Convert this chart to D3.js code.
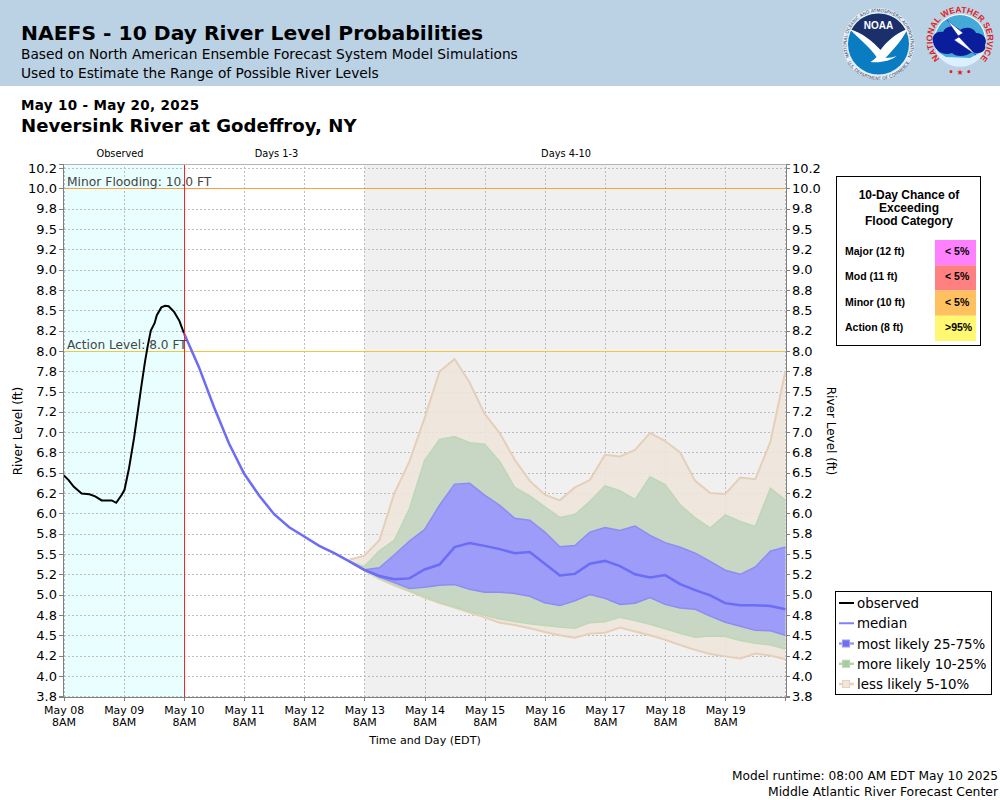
<!DOCTYPE html>
<html>
<head>
<meta charset="utf-8">
<title>NAEFS - Neversink River at Godeffroy, NY</title>
<script src="https://d3js.org/d3.v7.min.js"></script>
<style>
  html, body { margin: 0; padding: 0; background: #fff; }
  svg { display: block; }
  text { font-family: "DejaVu Sans", sans-serif; }
  .grid line { stroke: #bdbdbd; stroke-width: 1; stroke-dasharray: 2,2; shape-rendering: crispEdges; }
  .axis path { stroke: #808080; shape-rendering: crispEdges; }
  .axis line { stroke: #808080; shape-rendering: crispEdges; }
  .axis text { font-family: "DejaVu Sans", sans-serif; fill: #000; }
  .crisp { shape-rendering: crispEdges; }
  .table-text { font-family: "Liberation Sans", sans-serif; font-weight: bold; }
</style>
</head>
<body>
<div id="chart"></div>
<script>
// hours since May 08 8AM
var dayTicks = [0, 24, 48, 72, 96, 120, 144, 168, 192, 216, 240, 264, 288];
var dayLabels = ['May 08', 'May 09', 'May 10', 'May 11', 'May 12', 'May 13', 'May 14', 'May 15', 'May 16', 'May 17', 'May 18', 'May 19', ''];
var hourLabels = ['8AM', '8AM', '8AM', '8AM', '8AM', '8AM', '8AM', '8AM', '8AM', '8AM', '8AM', '8AM', ''];

var levelTicks = [3.75, 4, 4.25, 4.5, 4.75, 5, 5.25, 5.5, 5.75, 6, 6.25, 6.5, 6.75, 7, 7.25, 7.5, 7.75, 8, 8.25, 8.5, 8.75, 9, 9.25, 9.5, 9.75, 10, 10.25];
var levelLabels = ['3.8', '4.0', '4.2', '4.5', '4.8', '5.0', '5.2', '5.5', '5.8', '6.0', '6.2', '6.5', '6.8', '7.0', '7.2', '7.5', '7.8', '8.0', '8.2', '8.5', '8.8', '9.0', '9.2', '9.5', '9.8', '10.0', '10.2'];

var observedHours = [0, 2, 4, 7.2, 10.3, 12.6, 15.2, 19.2, 21, 23.2, 24.3, 26.1, 28.1, 29.5, 31, 32.5, 33.5, 34.8, 36.3, 37.2, 39, 40.5, 41.9, 44.1, 46.2, 48];
var observedLevels = [6.47, 6.41, 6.33, 6.245, 6.235, 6.21, 6.16, 6.16, 6.13, 6.23, 6.29, 6.555, 6.925, 7.23, 7.56, 7.87, 8.05, 8.25, 8.34, 8.44, 8.535, 8.555, 8.55, 8.48, 8.37, 8.22];

// six hourly forecast, May 10 8AM to May 20 8AM
var medianHours = [48, 54, 60, 66, 72, 78, 84, 90, 96, 102, 108, 114, 120, 126, 132, 138, 144, 150, 156, 162, 168, 174, 180, 186, 192, 198, 204, 210, 216, 222, 228, 234, 240, 246, 252, 258, 264, 270, 276, 282, 288];
var medianLevels = [8.22, 7.80, 7.31, 6.86, 6.49, 6.22, 5.99, 5.83, 5.715, 5.60, 5.51, 5.41, 5.305, 5.23, 5.19, 5.20, 5.31, 5.37, 5.585, 5.635, 5.60, 5.56, 5.51, 5.525, 5.38, 5.235, 5.255, 5.38, 5.415, 5.35, 5.25, 5.21, 5.24, 5.13, 5.055, 4.99, 4.895, 4.87, 4.87, 4.86, 4.82];

// the bands open up at hour 114
var bandHours = [114, 120, 126, 132, 138, 144, 150, 156, 162, 168, 174, 180, 186, 192, 198, 204, 210, 216, 222, 228, 234, 240, 246, 252, 258, 264, 270, 276, 282, 288];
var lessUpper = [5.43, 5.48, 5.67, 6.25, 6.64, 7.17, 7.745, 7.90, 7.61, 7.225, 6.99, 6.66, 6.40, 6.23, 6.16, 6.32, 6.41, 6.72, 6.70, 6.78, 6.99, 6.89, 6.75, 6.40, 6.25, 6.24, 6.44, 6.42, 6.88, 7.75];
var moreUpper = [5.41, 5.345, 5.54, 5.67, 6.06, 6.65, 6.91, 6.945, 6.87, 6.85, 6.64, 6.32, 6.215, 6.08, 5.95, 5.985, 6.15, 6.34, 6.28, 6.17, 6.45, 6.355, 6.105, 5.945, 5.82, 5.98, 5.90, 5.84, 6.31, 6.165];
var mostUpper = [5.41, 5.305, 5.33, 5.49, 5.66, 5.80, 6.10, 6.36, 6.37, 6.225, 6.10, 5.94, 5.915, 5.77, 5.59, 5.605, 5.77, 5.825, 5.79, 5.845, 5.73, 5.64, 5.585, 5.51, 5.41, 5.30, 5.25, 5.34, 5.535, 5.585];
var mostLower = [5.41, 5.305, 5.215, 5.15, 5.075, 5.09, 5.115, 5.125, 5.065, 5.03, 5.03, 5.015, 4.98, 4.90, 4.865, 4.925, 5.00, 4.955, 4.88, 4.895, 4.965, 4.88, 4.835, 4.82, 4.735, 4.66, 4.61, 4.56, 4.555, 4.50];
var moreLower = [5.41, 5.30, 5.205, 5.13, 5.05, 4.975, 4.905, 4.85, 4.795, 4.745, 4.70, 4.67, 4.64, 4.62, 4.60, 4.585, 4.655, 4.665, 4.72, 4.68, 4.635, 4.58, 4.525, 4.475, 4.49, 4.485, 4.435, 4.40, 4.38, 4.33];
var lessLower = [5.41, 5.295, 5.195, 5.11, 5.04, 4.965, 4.895, 4.84, 4.78, 4.72, 4.655, 4.625, 4.585, 4.54, 4.50, 4.47, 4.52, 4.53, 4.595, 4.545, 4.50, 4.445, 4.38, 4.32, 4.27, 4.24, 4.215, 4.275, 4.25, 4.205];

var floodCategories = ['Major (12 ft)', 'Mod (11 ft)', 'Minor (10 ft)', 'Action (8 ft)'];
var floodChances = ['< 5%', '< 5%', '< 5%', '>95%'];
var floodColors = ['#ff80ff', '#ff8080', '#ffc060', '#fff870'];

var legendNames = ['observed', 'median', 'most likely 25-75%', 'more likely 10-25%', 'less likely 5-10%'];
var legendLines = ['#000000', '#8080f8', '#9c9cf8', '#b8d4b0', '#e8d2bc'];
var legendBoxes = [null, null, '#6f6ff0', '#a8cca0', '#efe6dc'];

var svg = d3.select('#chart').append('svg').attr('width', 1000).attr('height', 800);

var x = d3.scaleLinear().domain([0, 288]).range([63.6, 785.4]);
var y = d3.scaleLinear().domain([3.74, 10.3]).range([697, 164]);

// header
svg.append('rect').attr('width', 1000).attr('height', 86).attr('fill', '#bbd2e5');
function label(txt, px, py, size, weight, anchor) {
	return svg.append('text').attr('x', px).attr('y', py).attr('font-size', size)
		.attr('font-weight', weight || 'normal').attr('text-anchor', anchor || 'start').text(txt);
}
label('NAEFS - 10 Day River Level Probabilities', 21, 40, 20.3, 'bold');
label('Based on North American Ensemble Forecast System Model Simulations', 21, 59, 13.76);
label('Used to Estimate the Range of Possible River Levels', 21, 78, 13.76);
label('May 10 - May 20, 2025', 21, 110, 13.5, 'bold').attr('letter-spacing', 0.35);
label('Neversink River at Godeffroy, NY', 21, 132, 18.1, 'bold');

drawNoaa(878.5, 44);
drawNws(960, 40);

// plot backgrounds
var plot = svg.append('g');
var plotTop = y.range()[1], plotBottom = y.range()[0];
plot.append('rect').attr('x', x(0)).attr('y', plotTop).attr('width', x(288) - x(0)).attr('height', plotBottom - plotTop).attr('fill', '#fff');
plot.append('rect').attr('x', x(0)).attr('y', plotTop).attr('width', x(48) - x(0)).attr('height', plotBottom - plotTop).attr('fill', '#e9ffff');
plot.append('rect').attr('x', x(120)).attr('y', plotTop).attr('width', x(288) - x(120)).attr('height', plotBottom - plotTop).attr('fill', '#f0f0f0');

// grid, half a pixel in like the axis ticks
var grid = plot.append('g').attr('class', 'grid');
grid.selectAll('.h').data(levelTicks).enter().append('line').attr('class', 'h')
	.attr('x1', x(0)).attr('x2', x(288)).attr('y1', function(d) { return y(d) + 0.5; }).attr('y2', function(d) { return y(d) + 0.5; });
grid.selectAll('.v').data(dayTicks).enter().append('line').attr('class', 'v')
	.attr('y1', plotBottom).attr('y2', plotTop).attr('x1', function(d) { return x(d) + 0.5; }).attr('x2', function(d) { return x(d) + 0.5; });

// flood levels
plot.append('line').attr('class', 'crisp').attr('x1', x(0)).attr('x2', x(288)).attr('y1', y(10) + 0.5).attr('y2', y(10) + 0.5).attr('stroke', '#ffa040');
plot.append('line').attr('class', 'crisp').attr('x1', x(0)).attr('x2', x(288)).attr('y1', y(8) + 0.5).attr('y2', y(8) + 0.5).attr('stroke', '#f0c840');

// bands, widest first
var bands = [
	{upper: lessUpper, lower: lessLower, fill: 'rgb(238,229,217)', stroke: '#e5cfb8', width: 2},
	{upper: moreUpper, lower: moreLower, fill: 'rgb(195,212,192)', stroke: '#bcd8b4', width: 1.5},
	{upper: mostUpper, lower: mostLower, fill: 'rgb(150,148,255)', stroke: '#8c8cf4', width: 1.5}
];
var bandArea = d3.area()
	.x(function(d) { return x(d.h); })
	.y0(function(d) { return y(d.lo); })
	.y1(function(d) { return y(d.hi); });
var edge = d3.line().x(function(d) { return x(d[0]); }).y(function(d) { return y(d[1]); });

bands.forEach(function(b) {
	var rows = bandHours.map(function(h, i) { return {h: h, lo: b.lower[i], hi: b.upper[i]}; });
	plot.append('path').attr('d', bandArea(rows)).attr('fill', b.fill).attr('fill-opacity', 0.88);
	[b.upper, b.lower].forEach(function(vals) {
		plot.append('path').attr('d', edge(d3.zip(bandHours, vals)))
			.attr('fill', 'none').attr('stroke', b.stroke).attr('stroke-width', b.width);
	});
});

plot.append('path').attr('d', edge(d3.zip(medianHours, medianLevels)))
	.attr('fill', 'none').attr('stroke', '#6c6cf6').attr('stroke-width', 2.5);
plot.append('path').attr('d', edge(d3.zip(observedHours, observedLevels)))
	.attr('fill', 'none').attr('stroke', '#000').attr('stroke-width', 2);

plot.append('line').attr('class', 'crisp').attr('x1', x(48) + 0.5).attr('x2', x(48) + 0.5).attr('y1', plotBottom).attr('y2', plotTop).attr('stroke', '#ff2020');

// frame top
plot.append('line').attr('class', 'crisp').attr('x1', x(0)).attr('x2', x(288)).attr('y1', plotTop).attr('y2', plotTop).attr('stroke', '#b4b4b4');

label('Minor Flooding: 10.0 FT', 67, 186, 12.3).attr('fill', '#444');
label('Action Level: 8.0 FT', 67, 349, 12.2).attr('fill', '#444');

// axes
var yFormat = function(d) { return levelLabels[levelTicks.indexOf(d)]; };
var leftAxis = svg.append('g').attr('class', 'axis').attr('transform', 'translate(63,0)')
	.call(d3.axisLeft(y).tickValues(levelTicks).tickFormat(yFormat).tickSize(4).tickPadding(2));
var rightAxis = svg.append('g').attr('class', 'axis').attr('transform', 'translate(' + (x(288) + 0.5) + ',0)')
	.call(d3.axisRight(y).tickValues(levelTicks).tickFormat(yFormat).tickSize(4).tickPadding(2));
leftAxis.selectAll('text').attr('font-size', 13);
rightAxis.selectAll('text').attr('font-size', 13);

var bottomAxis = svg.append('g').attr('class', 'axis').attr('transform', 'translate(0,' + plotBottom + ')')
	.call(d3.axisBottom(x).tickValues(dayTicks).tickFormat('').tickSize(4));
bottomAxis.selectAll('.tick').append('text')
	.attr('y', 17).attr('font-size', 11).attr('text-anchor', 'middle')
	.text(function(d, i) { return dayLabels[i]; });
bottomAxis.selectAll('.tick').append('text')
	.attr('y', 29).attr('font-size', 11).attr('text-anchor', 'middle')
	.text(function(d, i) { return hourLabels[i]; });

label('Time and Day (EDT)', 425, 744, 11.1, 'normal', 'middle');
label('Observed', 120, 157, 9.8, 'normal', 'middle');
label('Days 1-3', 276.5, 157, 9.8, 'normal', 'middle');
label('Days 4-10', 566, 157, 9.8, 'normal', 'middle');
svg.append('text').attr('transform', 'translate(22,431) rotate(-90)').attr('text-anchor', 'middle').attr('font-size', 12).text('River Level (ft)');
svg.append('text').attr('transform', 'translate(827,431) rotate(90)').attr('text-anchor', 'middle').attr('font-size', 12).text('River Level (ft)');

// flood category table
var table = svg.append('g');
table.append('rect').attr('x', 836.5).attr('y', 176.5).attr('width', 144).attr('height', 169).attr('fill', '#fff').attr('stroke', '#000');
['10-Day Chance of', 'Exceeding', 'Flood Category'].forEach(function(t, i) {
	table.append('text').attr('class', 'table-text').attr('x', 909).attr('y', 199 + i * 13).attr('text-anchor', 'middle')
		.attr('font-size', 12).text(t);
});
var rowY = d3.scaleBand().domain(floodCategories).range([240, 341]);
table.selectAll('.cell').data(floodCategories).enter().append('rect').attr('class', 'cell')
	.attr('x', 935).attr('width', 41)
	.attr('y', function(d) { return rowY(d); }).attr('height', rowY.bandwidth())
	.attr('fill', function(d, i) { return floodColors[i]; });
table.selectAll('.cat').data(floodCategories).enter().append('text').attr('class', 'cat table-text')
	.attr('x', 845).attr('y', function(d) { return rowY(d) + 15; })
	.attr('font-size', 10.5).text(function(d) { return d; });
table.selectAll('.pct').data(floodChances).enter().append('text').attr('class', 'pct table-text')
	.attr('x', 945).attr('y', function(d, i) { return rowY(floodCategories[i]) + 15; })
	.attr('font-size', 10.5).text(function(d) { return d; });

// legend
var legend = svg.append('g');
legend.append('rect').attr('x', 835.5).attr('y', 591.5).attr('width', 156).attr('height', 103).attr('fill', '#fff').attr('stroke', '#000');
var legendY = d3.scalePoint().domain(legendNames).range([603, 684]);
legendNames.forEach(function(name, i) {
	var ly = legendY(name);
	legend.append('line').attr('x1', 839).attr('x2', 854).attr('y1', ly).attr('y2', ly)
		.attr('stroke', legendLines[i]).attr('stroke-width', i < 2 ? 2 : 2.5);
	if (legendBoxes[i]) {
		legend.append('rect').attr('x', 842.5).attr('y', ly - 3.5).attr('width', 7).attr('height', 7)
			.attr('fill', legendBoxes[i]).attr('stroke', legendLines[i]);
	}
	legend.append('text').attr('x', 857).attr('y', ly + 5).attr('font-size', 13.4).text(name);
});

label('Model runtime: 08:00 AM EDT May 10 2025', 998, 780, 12.2, 'normal', 'end');
label('Middle Atlantic River Forecast Center', 998, 796, 12.4, 'normal', 'end');

function arcText(g, id, r, start, end, txt, size, color, cls) {
	var a = d3.path();
	a.arc(0, 0, r, start, end, end < start);
	g.append('path').attr('id', id).attr('d', a.toString()).attr('fill', 'none');
	g.append('text').attr('class', cls || null).attr('font-size', size).attr('fill', color)
		.attr('text-anchor', 'middle')
		.append('textPath').attr('href', '#' + id).attr('startOffset', '50%').text(txt);
}

function drawNoaa(cx, cy) {
	var g = svg.append('g').attr('transform', 'translate(' + cx + ',' + cy + ')');
	g.append('circle').attr('r', 36).attr('fill', '#e4edf4');
	arcText(g, 'noaaTop', 32, Math.PI * 0.78, Math.PI * 2.22, 'NATIONAL OCEANIC AND ATMOSPHERIC ADMINISTRATION', 4.4, '#33425f');
	arcText(g, 'noaaBot', 36, Math.PI * 0.92, Math.PI * 0.08, 'U.S. DEPARTMENT OF COMMERCE', 4.4, '#33425f');
	g.append('circle').attr('r', 30.5).attr('fill', '#0a7cc2');
	g.append('path').attr('d', 'M-27,-14 A30.5,30.5 0 0 1 27,-14 C16,-10 8,-2 2,6 C-6,-2 -16,-10 -27,-14 Z').attr('fill', '#1b2f6b');
	g.append('path').attr('d', 'M-29,-15 C-16,-11 -6,-3 2,6 C8,-2 16,-10 29,-15 C24,-4 14,6 7,14 C11,14 15,13 18,12 C12,17 2,19 -8,18 C-5,16 -3,14 -2,13 C-8,4 -20,-6 -29,-15 Z').attr('fill', '#fff');
	g.append('text').attr('class', 'table-text').attr('y', -15).attr('text-anchor', 'middle').attr('font-size', 10)
		.attr('fill', '#fff').text('NOAA');
}

function drawNws(cx, cy) {
	var g = svg.append('g').attr('transform', 'translate(' + cx + ',' + cy + ')');
	arcText(g, 'nwsText', 27.5, Math.PI * 0.68, Math.PI * 2.32, 'NATIONAL WEATHER SERVICE', 8.5, '#e02020', 'table-text');
	g.append('circle').attr('r', 26).attr('fill', '#fff');
	g.append('circle').attr('r', 25).attr('fill', '#45a9d8');
	g.append('path').attr('d', 'M-25,10 A27,27 0 0 0 25,10 L10,18 L-14,17 Z').attr('fill', '#dcefff');
	g.append('path').attr('d', 'M-27,2 C-29,-6 -22,-9 -17,-8 C-14,-15 -4,-15 0,-10 C6,-14 14,-12 16,-7 C24,-7 28,0 25,5 C27,12 18,15 12,12 C6,17 -4,17 -8,13 C-15,16 -25,12 -27,2 Z').attr('fill', '#0a1e9c');
	g.append('path').attr('d', 'M-13,-20 L3,-7 L-2,-4 L16,15 L-6,0 L-1,-3 Z').attr('fill', '#fff').attr('stroke', '#0a1e9c').attr('stroke-width', 0.5);
	g.append('text').attr('y', 35).attr('text-anchor', 'middle').attr('font-size', 8).attr('fill', '#e02020').attr('font-weight', 'bold').text('• ★ •');
}
</script>
</body>
</html>
